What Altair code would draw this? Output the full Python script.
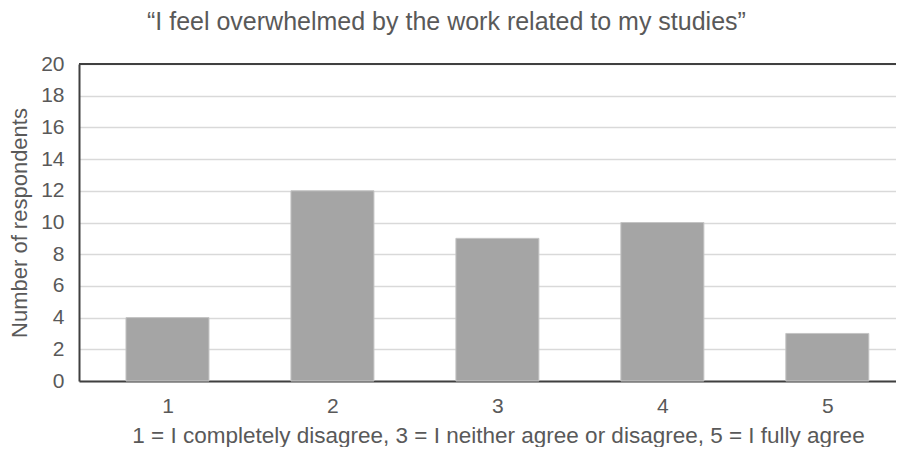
import altair as alt
import pandas as pd

categories = [1, 2, 3, 4, 5]
counts = [4, 12, 9, 10, 3]
y_ticks = [0, 2, 4, 6, 8, 10, 12, 14, 16, 18, 20]
x_ticks = [1, 2, 3, 4, 5]

df = pd.DataFrame({"answer": categories, "count": counts})

FONT = "Liberation Sans, Arial, sans-serif"
TXT = "#595959"

xscale = alt.Scale(domain=[0.494, 5.386], nice=False, zero=False)
yscale = alt.Scale(domain=[0, 20], nice=False)

yaxis = alt.Axis(values=y_ticks, title="Number of respondents", grid=True,
                 gridColor="#d9d9d9", gridWidth=1.5, ticks=False, labelFontSize=21,
                 labelFont=FONT, labelColor=TXT, labelPadding=15, titleFontSize=22,
                 titleFont=FONT, titleColor=TXT, titleFontWeight="normal", titlePadding=9,
                 labelOverlap=False, domainColor="#404040", domainWidth=2)

bars = alt.Chart(df).mark_bar(size=83, color="#a5a5a5", stroke="#c4c4c4", strokeWidth=1).encode(
    x=alt.X("answer:Q", scale=xscale,
            axis=alt.Axis(values=x_ticks, title="1 = I completely disagree,  3 = I neither agree  or disagree,  5 = I fully agree",
                          grid=False, ticks=False, labelFontSize=21, labelFont=FONT, labelColor=TXT,
                          labelPadding=14, titleFontSize=22.5, titleFont=FONT, titleColor=TXT,
                          titleFontWeight="normal", titlePadding=8, labelOverlap=False,
                          titleX=419, titleAlign="center",
                          domainColor="#404040", domainWidth=2, format="d")),
    y=alt.Y("count:Q", scale=yscale, axis=yaxis),
)

top = alt.Chart(pd.DataFrame({"count": [20]})).mark_rule(color="#404040", strokeWidth=2).encode(
    y=alt.Y("count:Q", scale=yscale, axis=yaxis)
)

chart = alt.layer(bars, top).properties(
    width=817,
    height=317,
    title=alt.TitleParams(
        "“I feel overwhelmed by the work related to my studies”",
        fontSize=25, font=FONT, fontWeight="normal", color=TXT, anchor="start", frame="group",
        dx=68, offset=18,
    ),
    autosize=alt.AutoSizeParams(type="none"),
    padding={"left": 71, "top": 56, "right": 0, "bottom": 66},
).configure_view(stroke=None)

chart.save("out.html", embed_options={"renderer": "svg", "actions": False})
